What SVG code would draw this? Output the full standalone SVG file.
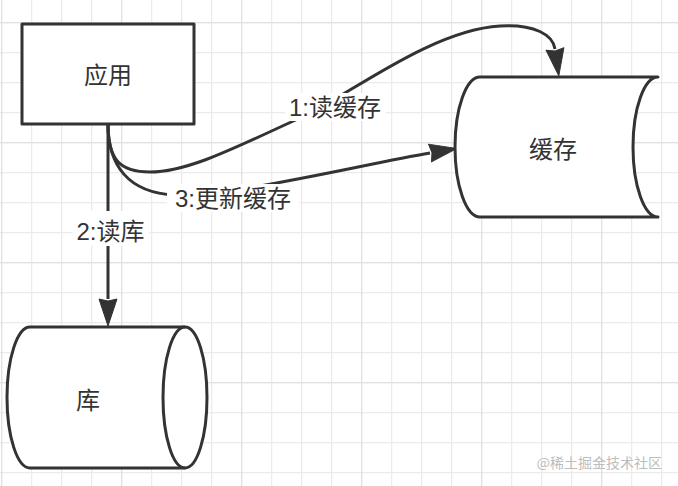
<svg xmlns="http://www.w3.org/2000/svg" width="678" height="486" viewBox="0 0 678 486">
  <style>
    .shape { fill: #ffffff; stroke: #333333; stroke-width: 3; stroke-linejoin: round; }
    .edge { fill: none; stroke: #333333; stroke-width: 3; }
    .txt { font-family: "Liberation Sans", "Noto Sans CJK SC", sans-serif; font-size: 24px; fill: #333333; text-anchor: middle; }
    .lblbg { fill: #ffffff; stroke: none; }
    .wm { font-family: "Noto Sans CJK SC", sans-serif; font-size: 14px; fill: #bdbdbd; text-anchor: end; }
  </style>
  <defs>
    <pattern id="gridMinor" x="1" y="22" width="30" height="30" patternUnits="userSpaceOnUse">
      <path d="M0,0.5 H30 M0.5,0 V30" fill="none" stroke="#ebebeb" stroke-width="1.5"/>
    </pattern>
    <pattern id="gridMajor" x="1" y="22" width="120" height="120" patternUnits="userSpaceOnUse">
      <path d="M0,0.5 H120 M0.5,0 V120" fill="none" stroke="#e1e1e1" stroke-width="1.5"/>
    </pattern>
    <marker id="arrow" markerUnits="userSpaceOnUse" markerWidth="28" markerHeight="20" refX="0" refY="9" orient="auto" overflow="visible">
      <path d="M0,0 L27,9 L0,18 L2,9 Z" fill="#333333" stroke="#333333" stroke-width="1" stroke-linejoin="round"/>
    </marker>
  </defs>

  <rect width="678" height="486" fill="#ffffff"/>
  <rect width="678" height="486" fill="url(#gridMinor)"/>
  <rect width="678" height="486" fill="url(#gridMajor)"/>

  <g id="connectors">
    <path class="edge" d="M108,124 C108,160 120,172 150,172 C190,172 240,145 300,118 C345,98 430,30 500,26 C535,24 553,35 555,49" marker-end="url(#arrow)"/>
    <path class="edge" d="M108,124 V299" marker-end="url(#arrow)"/>
    <path class="edge" d="M108,124 C108,165 128,193 175,195 C240,195 360,165 430,153" marker-end="url(#arrow)"/>
    <g id="label-1">
      <rect class="lblbg" x="285" y="93" width="101" height="28"/>
      <text class="txt" x="335" y="116">1:读缓存</text>
    </g>
    <g id="label-2">
      <rect class="lblbg" x="72" y="211" width="77" height="35"/>
      <text class="txt" x="110.5" y="240">2:读库</text>
    </g>
    <g id="label-3">
      <rect class="lblbg" x="167" y="184" width="132" height="28"/>
      <text class="txt" x="233" y="207">3:更新缓存</text>
    </g>
  </g>

  <g id="node-app">
    <rect class="shape" x="22" y="24" width="172" height="100"/>
    <text class="txt" x="108" y="84">应用</text>
  </g>

  <g id="node-cache">
    <path class="shape" d="M480,77 L658,77 A25,70 0 0 0 658,217 L480,217 A25,70 0 0 1 480,77 Z"/>
    <text class="txt" x="553" y="158">缓存</text>
  </g>

  <g id="node-db">
    <path class="shape" d="M30,327 L185,327 A22,70.5 0 0 1 185,468 L30,468 A23,70.5 0 0 1 30,327 Z"/>
    <path class="shape" fill="none" d="M185,327 A22,70.5 0 0 0 185,468" style="fill:none"/>
    <text class="txt" x="88" y="409">库</text>
  </g>

  <text class="wm" x="662" y="468">@稀土掘金技术社区</text>
</svg>
